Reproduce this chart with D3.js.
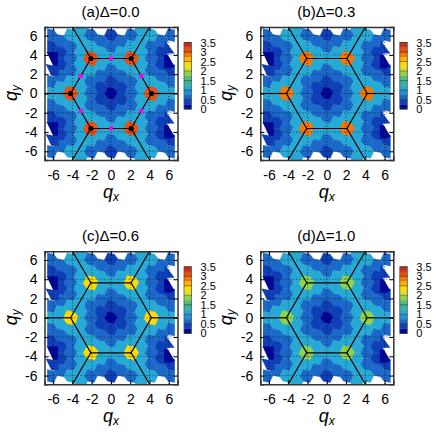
<!DOCTYPE html>
<html>
<head>
<meta charset="utf-8">
<script src="https://cdn.jsdelivr.net/npm/d3@7"></script>
<style>
  html, body { margin: 0; padding: 0; background: #fff; }
  text { font-family: "Liberation Sans", Arial, sans-serif; fill: #000; }
</style>
</head>
<body>
<div id="chart"></div>
<script>
const titles = ["(a)Δ=0.0", "(b)Δ=0.3", "(c)Δ=0.6", "(d)Δ=1.0"]
const axisTicks = [-6, -4, -2, 0, 2, 4, 6]
const colorTicks = [0, 0.5, 1, 1.5, 2, 2.5, 3, 3.5]
const palette = ["#00089a", "#0f3fb6", "#1a68c8", "#2590d8", "#26a9d4", "#2fb5a0", "#55bb78", "#92d34e",
  "#d8e22c", "#ffdc00", "#ffb400", "#f77800", "#e9500f", "#d22a12"]

// lattice steps of the momentum grid
const stepX = 1.047
const stepY = 0.605

// one string per grid row, r = 11 down to -11, columns c = -6..6, a character names the value group
const gridRows = [
  "...4.....4...",
  "3.4.3.1.3.4.3",
  ".2.5.2.2.5.2.",
  "1.3.4.3.4.3..",
  ".1.7.7.7.7.1.",
  "..2.6.5.6.2..",
  ".1.7.7.7.7.1.",
  "..3.4.3.4.3.1",
  ".2.5.2.2.5.2.",
  "3.4.3.1.3.4.3",
  ".7.7.1.1.7.7.",
  "5.6.2.0.2.6.5",
  ".7.7.1.1.7.7.",
  "3.4.3.1.3.4.3",
  ".2.5.2.2.5.2.",
  "1.3.4.3.4.3..",
  ".1.7.7.7.7.1.",
  "..2.6.5.6.2..",
  ".1.7.7.7.7.1.",
  "..3.4.3.4.3.1",
  ".2.5.2.2.5.2.",
  "3.4.3.1.3.4.3",
  "...4.....4..."
]

// value of each group, groups 0..7, per panel
const groupValues = [
  [0.1, 0.4, 0.6, 0.7, 1.1, 1.05, 3.2, 1.05],
  [0.1, 0.4, 0.6, 0.7, 1.15, 1.05, 2.9, 1.05],
  [0.1, 0.4, 0.6, 0.7, 1.15, 1.05, 2.4, 1.05],
  [0.1, 0.4, 0.6, 0.7, 1.15, 1.05, 1.85, 1.05]
]

// torn cells on the left and right edge of the grid: [group, outline in q units]
const edgeGroups = [1, 0, 1, 0, 1, 0, 1, 0]
const edgeOutlines = [
  [[5.6, 5.5], [6.6, 4.15], [5.44, 4.15]],
  [[5.5, 4], [5.9, 4], [6.62, 2.78], [6.1, 2.6], [5.5, 2.6]],
  [[5.6, -1.76], [6.6, -3.11], [5.44, -3.11]],
  [[5.5, -3.26], [5.9, -3.26], [6.62, -4.48], [6.1, -4.66], [5.5, -4.66]],
  [[-6.78, 3.05], [-5.41, 2.78], [-5.41, 1.85], [-6.2, 1.85]],
  [[-6.68, 4.3], [-5.5, 4.3], [-5.5, 2.88], [-6, 2.88]],
  [[-6.78, -4.21], [-5.41, -4.48], [-5.41, -5.41], [-6.2, -5.41]],
  [[-6.68, -2.96], [-5.5, -2.96], [-5.5, -4.38], [-6, -4.38]]
]

// Brillouin zone corners and the boundary lines running out of the frame
const kX = [4.19, 2.09, -2.09, -4.19, -2.09, 2.09]
const kY = [0, 3.63, 3.63, 0, -3.63, -3.63]
const spurs = [
  [[4.19, 0], [6.9, 0]], [[-4.19, 0], [-6.9, 0]],
  [[2.09, 3.63], [4, 6.9]], [[-2.09, 3.63], [-4, 6.9]],
  [[2.09, -3.63], [4, -6.9]], [[-2.09, -3.63], [-4, -6.9]]
]
const mX = [0, 3.14, 3.14, 0, -3.14, -3.14]
const mY = [3.63, 1.81, -1.81, -3.63, -1.81, 1.81]

// cell outline, sheared a little so the bricks lean like the reference but still tile
const hexX = [0.698, 0.349, -0.349, -0.698, -0.349, 0.349]
const hexY = [0.07, 0.535, 0.675, -0.07, -0.535, -0.675]
const peakGroup = 6
const peakScale = 1.12

const dimensions = { width: 436, height: 436, plotSize: 133 }
const panelLefts = [44.5, 44.5 + 215.8, 44.5, 44.5 + 215.8]
const panelTops = [27, 27, 251.3, 251.3]

const svg = d3
  .select("#chart")
  .append("svg")
  .attr("width", dimensions.width)
  .attr("height", dimensions.height)
  .style("display", "block")

const colorScale = d3.scaleQuantize().domain([0, 3.5]).range(palette)

// build the cells once from the rows, peaks drawn last
const cells = []
gridRows.forEach((row, i) => {
  row.split("").forEach((ch, j) => {
    if (ch !== ".") cells.push({ qx: (j - 6) * stepX, qy: (11 - i) * stepY, group: +ch })
  })
})
cells.sort((a, b) => (a.group === peakGroup) - (b.group === peakGroup))

titles.forEach((title, p) => {
  const size = dimensions.plotSize
  const xScale = d3.scaleLinear().domain([-6.9, 6.9]).range([0, size])
  const yScale = d3.scaleLinear().domain([-6.9, 6.9]).range([size, 0])
  const values = groupValues[p]
  const line = d3.line().x(d => xScale(d[0])).y(d => yScale(d[1]))

  const ctr = svg.append("g").attr("transform", `translate(${panelLefts[p]}, ${panelTops[p]})`)

  const clipId = `clip-${p}`
  ctr.append("clipPath").attr("id", clipId).append("path")
    .attr("d", line([[-6.62, -6.9], [6.62, -6.9], [6.62, 6.9], [-6.62, 6.9]]) + "Z")

  // heat cells
  ctr.append("g").attr("clip-path", `url(#${clipId})`)
    .selectAll("path")
    .data(cells)
    .join("path")
    .attr("d", d => {
      const k = d.group === peakGroup ? peakScale : 1
      return line(hexX.map((hx, i) => [d.qx + k * hx, d.qy + k * hexY[i]])) + "Z"
    })
    .attr("fill", d => colorScale(values[d.group]))
    .attr("stroke", d => colorScale(values[d.group]))
    .attr("stroke-width", 0.4)

  ctr.append("g")
    .selectAll("path")
    .data(edgeOutlines)
    .join("path")
    .attr("d", d => line(d) + "Z")
    .attr("fill", (d, i) => colorScale(values[edgeGroups[i]]))

  // dotted grid
  const grid = ctr.append("g").attr("stroke", "#000").attr("stroke-width", 0.6).attr("stroke-dasharray", "1,2")
  grid.selectAll(".gx").data(axisTicks).join("line").attr("class", "gx")
    .attr("x1", d => xScale(d)).attr("x2", d => xScale(d)).attr("y1", 0).attr("y2", size)
  grid.selectAll(".gy").data(axisTicks).join("line").attr("class", "gy")
    .attr("y1", d => yScale(d)).attr("y2", d => yScale(d)).attr("x1", 0).attr("x2", size)

  // zone boundary
  const zone = kX.map((x, i) => [x, kY[i]])
  ctr.append("path").attr("d", line(zone) + "Z").attr("fill", "none").attr("stroke", "#000").attr("stroke-width", 1.2)
  ctr.append("g").selectAll("path").data(spurs).join("path")
    .attr("d", line).attr("fill", "none").attr("stroke", "#000").attr("stroke-width", 1.2)

  if (p === 0) {
    ctr.append("g").selectAll("circle").data(zone).join("circle")
      .attr("cx", d => xScale(d[0])).attr("cy", d => yScale(d[1])).attr("r", 2.6).attr("fill", "#000")
    ctr.append("g").selectAll("rect").data(mX).join("rect")
      .attr("x", d => xScale(d) - 2).attr("y", (d, i) => yScale(mY[i]) - 2)
      .attr("width", 4).attr("height", 4).attr("fill", "#ff00e0")
  }

  // axes, mirrored ticks inside like gnuplot
  const tickStyle = g => {
    g.select(".domain").attr("stroke", "#333").attr("stroke-width", 1.5)
    g.selectAll("line").attr("stroke", "#000")
  }
  const xAxis = ctr.append("g").attr("transform", `translate(0, ${size})`)
    .call(d3.axisBottom(xScale).tickValues(axisTicks).tickSize(-4).tickFormat(d => d).tickPadding(10))
    .call(tickStyle)
  const yAxis = ctr.append("g")
    .call(d3.axisLeft(yScale).tickValues(axisTicks).tickSize(-4).tickFormat(d => d).tickPadding(7))
    .call(tickStyle)
  xAxis.selectAll("text").attr("font-size", 14)
  yAxis.selectAll("text").attr("font-size", 14)
  ctr.append("g").call(d3.axisTop(xScale).tickValues(axisTicks).tickSize(-4).tickFormat("")).call(tickStyle)
  ctr.append("g").attr("transform", `translate(${size}, 0)`)
    .call(d3.axisRight(yScale).tickValues(axisTicks).tickSize(-4).tickFormat("")).call(tickStyle)

  ctr.append("text").attr("x", size / 2 - 0.5).attr("y", -10.5).attr("text-anchor", "middle")
    .attr("font-size", 15).text(title)

  const xLabel = ctr.append("text").attr("x", size / 2).attr("y", size + 38).attr("text-anchor", "middle")
    .attr("font-size", 18).attr("font-style", "italic")
  xLabel.append("tspan").text("q")
  xLabel.append("tspan").attr("dy", 3).attr("font-size", 12).text("x")

  const yLabel = ctr.append("text").attr("transform", `translate(-28, ${size / 2 - 0.5}) rotate(-90)`)
    .attr("text-anchor", "middle").attr("font-size", 18).attr("font-style", "italic")
  yLabel.append("tspan").text("q")
  yLabel.append("tspan").attr("dy", 3).attr("font-size", 12).text("y")

  // colour box
  const barH = 66.5
  const barScale = d3.scaleLinear().domain([0, 3.5]).range([barH, 0])
  const bar = ctr.append("g").attr("transform", `translate(${size + 6.5}, 15.5)`)
  bar.selectAll("rect").data(palette).join("rect")
    .attr("x", 0).attr("width", 7.5)
    .attr("y", (d, i) => barScale((i + 1) * 0.25)).attr("height", barH / palette.length + 0.3)
    .attr("fill", d => d)
  bar.append("rect").attr("width", 7.5).attr("height", barH).attr("fill", "none").attr("stroke", "#555").attr("stroke-width", 0.8)
  const barAxis = bar.append("g").attr("transform", "translate(7.5, 0)")
    .call(d3.axisRight(barScale).tickValues(colorTicks).tickSize(0).tickPadding(9).tickFormat(d => d))
  barAxis.select(".domain").remove()
  barAxis.selectAll("text").attr("font-size", 11)
  bar.selectAll(".bar-tick").data(colorTicks).join("line").attr("class", "bar-tick")
    .attr("x1", 0).attr("x2", 7.5).attr("y1", d => barScale(d)).attr("y2", d => barScale(d))
    .attr("stroke", "#000").attr("stroke-opacity", 0.55).attr("stroke-width", 0.7)
})
</script>
</body>
</html>
